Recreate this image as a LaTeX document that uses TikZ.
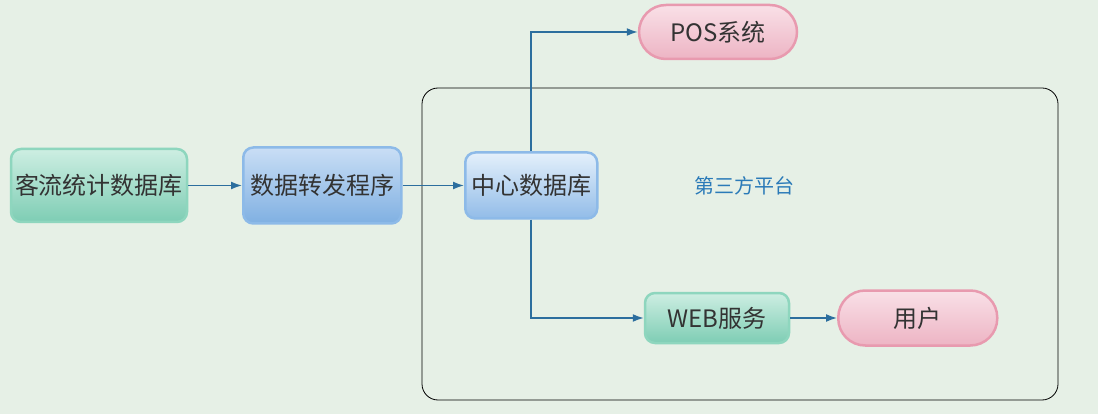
\documentclass[tikz,border=0pt]{standalone}
\usepackage{fontspec}
\newfontfamily\cjk{Noto Sans CJK SC}
\usetikzlibrary{positioning,arrows.meta}
\definecolor{bgcol}{HTML}{E6F0E6}
\definecolor{greenfill}{HTML}{7ECDB4}
\definecolor{greentop}{HTML}{CDEEE2}
\definecolor{greenline}{HTML}{8ED6BE}
\definecolor{bluefill}{HTML}{80B0E2}
\definecolor{bluetop}{HTML}{C9DEF5}
\definecolor{blueline}{HTML}{8DBAE8}
\definecolor{lightblue}{HTML}{92BCE8}
\definecolor{lighttop}{HTML}{E4F0FB}
\definecolor{pinkfill}{HTML}{EAA9BB}
\definecolor{pinktop}{HTML}{F9E0E7}
\definecolor{pinkline}{HTML}{E89AAF}
\definecolor{arrowcol}{HTML}{2C6E9E}
\definecolor{textcol}{HTML}{333333}
\definecolor{labelcol}{HTML}{2A7AB8}

\tikzset{
    box/.style={rounded corners=10pt, line width=2.5pt, text=textcol,
        font=\cjk\fontsize{24}{28}\selectfont, inner sep=0pt},
    greenbox/.style={box, draw=greenline, top color=greentop, middle color=greenfill, bottom color=greenfill},
    bluebox/.style={box, draw=blueline, top color=bluetop, middle color=bluefill, bottom color=bluefill},
    centerbox/.style={box, draw=blueline, top color=lighttop, bottom color=lightblue},
    pinkpill/.style={box, draw=pinkline, top color=pinktop, middle color=pinkfill, bottom color=pinkfill!80!pinktop},
    flow/.style={draw=arrowcol, line width=1.6pt, -{Latex[length=11pt,width=8pt]}},
}

\begin{document}
\begin{tikzpicture}[x=1pt,y=-1pt]
    \fill[bgcol] (0,0) rectangle (1098,414);
    \useasboundingbox (0,0) rectangle (1098,414);

    % third party platform frame
    \draw[line width=0.8pt, rounded corners=16pt] (422,88) rectangle (1058,400);
    \node[text=labelcol, font=\cjk\fontsize{20}{24}\selectfont] (platform) at (744,186) {第三方平台};

    \node[greenbox, minimum width=176pt, minimum height=73pt] (kl) at (99,185.5) {客流统计数据库};
    \node[bluebox, minimum width=158pt, minimum height=76pt, right=53.75pt of kl] (zf) {数据转发程序};
    \node[centerbox, minimum width=132pt, minimum height=66pt, right=61.5pt of zf] (zx) {中心数据库};

    \node[pinkpill, rounded corners=27pt, minimum width=158pt, minimum height=54pt] (pos) at (718,32) {POS系统};
    \node[greenbox, minimum width=144pt, minimum height=50pt] (web) at (717,318) {WEB服务};
    \node[pinkpill, rounded corners=27pt, minimum width=159pt, minimum height=55pt, right=46.75pt of web] (yh) {用户};

    \draw[flow] (kl) -- (zf);
    \draw[flow] (zf) -- (zx);
    \draw[flow] (zx.north) |- (pos.west);
    \draw[flow] (zx.south) |- (web.west);
    \draw[flow] (web) -- (yh);
\end{tikzpicture}
\end{document}
